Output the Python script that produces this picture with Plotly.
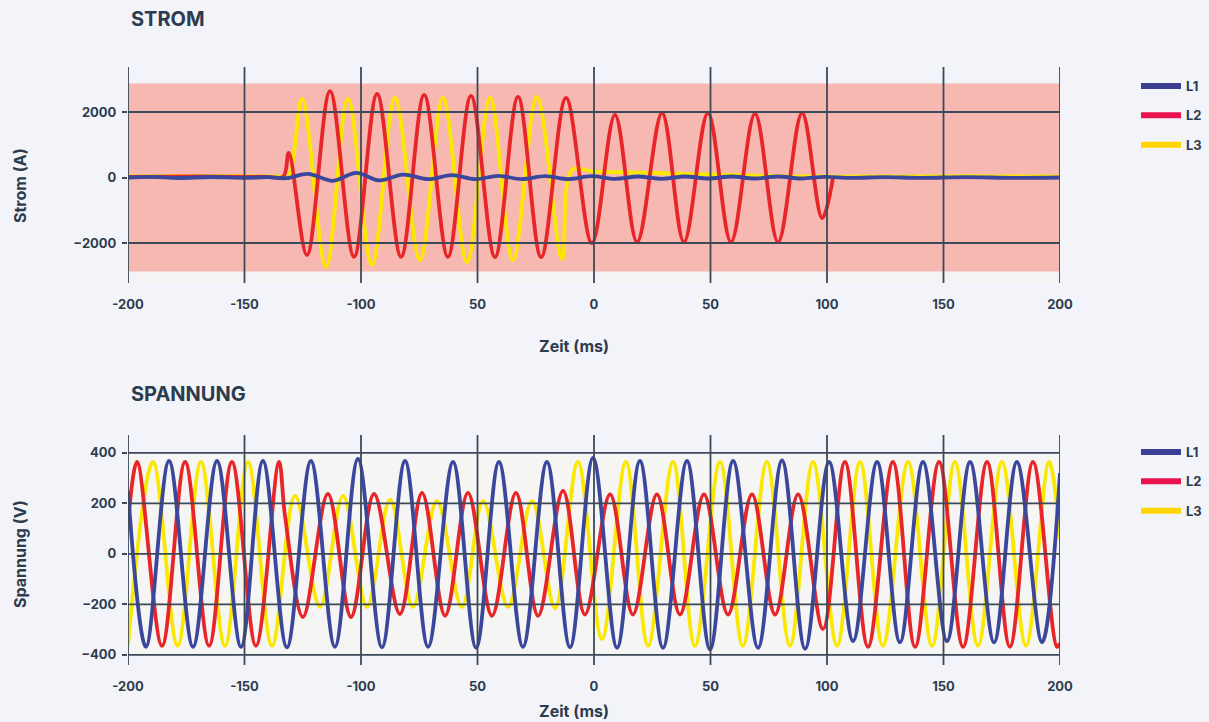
import plotly.graph_objects as go

# ---------------- data ----------------
X_TICKS = [-200, -150, -100, -50, 0, 50, 100, 150, 200]
X_TICK_LABELS = ["-200", "-150", "-100", "50", "0", "50", "100", "150", "200"]
Y1_TICKS = [-2000, 0, 2000]
Y2_TICKS = [-400, -200, 0, 200, 400]
SERIES_NAMES = ["L1", "L2", "L3"]

# Strom (A) – extrema / key points, time in ms
I1_T = [-200, -190, -178, -165, -150, -140, -132, -122.8, -112, -102, -92, -82, -71, -61, -51, -41, -31, -21, -11, -1,
        9, 19, 29, 39, 49, 59, 69, 79, 89, 99, 110, 125, 140, 160, 180, 200]
I1_V = [0, 20, -15, 15, -10, 10, -20, 110, -100, 140, -90, 90, -50, 75, -50, 50, -50, 40, -50, 40,
        -40, 30, -40, 30, -30, 30, -30, 30, -30, 20, -10, 10, -10, 10, -10, 0]

I2_T = [-200, -170, -140, -133.4, -131.0, -123.2, -113.3, -103.0, -93.1, -82.8, -72.9, -62.7, -52.8, -42.5, -32.6, -22.7,
        -12.0, -0.9, 9.0, 18.5, 29.2, 38.6, 48.9, 58.8, 69.1, 79.0, 89.3, 97.9, 102.6]
I2_V = [20, 30, 20, 20, 750, -2370, 2640, -2420, 2550, -2420, 2520, -2420, 2490, -2430, 2460, -2430,
        2430, -2000, 1910, -1970, 1970, -1970, 1970, -1970, 1950, -1970, 1970, -1240, 0]

I3_T = [-200, -160, -135, -131.3, -125.3, -115.0, -105.6, -95.3, -85.4, -74.7, -64.8, -54.5, -44.6, -34.8, -24.5, -13.7,
        -9.4, 0, 20, 40, 60, 80, 120, 160, 200]
I3_V = [30, 40, 30, 30, 2400, -2730, 2400, -2670, 2430, -2520, 2430, -2580, 2430, -2520, 2460, -2490,
        230, 180, 150, 110, 80, 40, 30, 40, 30]

# Spannung (V) – extrema / key points, time in ms
U1_T = [-200, -192.3, -182.4, -172.1, -161.8, -151.5, -142.1, -131.8, -121.5, -111.2, -101.3,
        -91.0, -81.1, -71.2, -60.5, -50.6, -40.8, -30.5, -20.2, -10.3, -0.4,
        9.9, 19.7, 29.6, 39.9, 49.8, 59.7, 70.4, 80.7, 90.6, 100.9,
        111.2, 121.5, 131.3, 141.2, 151.5, 161.4, 171.7, 181.5, 192.3, 200]
U1_V = [250, -368, 368, -368, 368, -368, 368, -370, 368, -368, 376,
        -370, 368, -368, 364, -372, 364, -368, 364, -370, 380,
        -372, 368, -372, 368, -378, 368, -372, 370, -376, 364,
        -345, 364, -350, 364, -345, 364, -350, 364, -350, 320]

U2_T = [-200, -196.1, -185.4, -175.5, -165.2, -155.4, -145.1, -135.2, -132.6,
        -124.9, -114.2, -104.3, -94.4, -83.3, -73.8, -63.9, -54.1, -43.8, -33.5,
        -24.0, -13.3, -3.9, 6.9, 16.7, 27.0, 36.9, 47.2, 57.5, 67.8,
        77.7, 87.6, 98.3, 107.7, 117.6, 128.3, 137.8, 148.1, 158.4, 168.7,
        178.5, 188.4, 198.7, 200]
U2_V = [120, 364, -364, 364, -364, 364, -364, 364, 150,
        -250, 238, -250, 238, -238, 242, -245, 242, -245, 242,
        -245, 250, -240, 236, -240, 236, -240, 236, -240, 236,
        -240, 236, -297, 364, -368, 364, -368, 364, -368, 364,
        -368, 364, -368, -355]

U3_T = [-200, -189.3, -178.7, -168.7, -158.4, -148.5, -138.2, -128.3, -117.6, -107.7,
        -97.4, -87.5, -77.7, -67.4, -56.7, -47.6, -36.9, -26.6, -16.7, -6.9,
        3.4, 13.7, 23.2, 33.9, 43.3, 54.1, 63.9, 74.2, 84.1, 94.0,
        104.3, 114.2, 124.0, 134.8, 145.1, 154.9, 164.8, 175.1, 185.4, 195.3, 200]
U3_V = [-362, 364, -364, 364, -364, 364, -364, 230, -210, 230,
        -210, 215, -210, 210, -210, 210, -210, 210, -215, 364,
        -337, 364, -364, 364, -364, 364, -364, 364, -364, 364,
        -364, 364, -364, 364, -364, 364, -364, 364, -364, 364, 60]

CURRENT_BAND = 2870  # pink band limits (A)

# ---------------- styling ----------------
W, H = 1209, 722
BG = "#f2f4f9"
INK = "#2d3b4e"
GRID = "#3d4959"
LINE_COLORS = {"L1": "#3a479c", "L2": "#e8262a", "L3": "#fbe800"}
LEGEND_COLORS = {"L1": "#3a3f94", "L2": "#e8124f", "L3": "#ffd600"}
FONT = "Inter"


def px_x(p):
    return p / W


def px_y(p):
    return 1 - p / H


fig = go.Figure()

# top chart traces
for name, t, v in [("L3", I3_T, I3_V), ("L2", I2_T, I2_V), ("L1", I1_T, I1_V)]:
    fig.add_trace(go.Scatter(x=t, y=v, mode="lines", line=dict(color=LINE_COLORS[name], width=3.8, shape="spline", smoothing=1),
                             showlegend=False, hoverinfo="skip", xaxis="x", yaxis="y"))
# bottom chart traces
for name, t, v in [("L3", U3_T, U3_V), ("L2", U2_T, U2_V), ("L1", U1_T, U1_V)]:
    fig.add_trace(go.Scatter(x=t, y=v, mode="lines", line=dict(color=LINE_COLORS[name], width=3.8, shape="spline", smoothing=1),
                             showlegend=False, hoverinfo="skip", xaxis="x2", yaxis="y2"))

# legend entries
for leg, xa, ya in [("legend", "x", "y"), ("legend2", "x2", "y2")]:
    for name in SERIES_NAMES:
        fig.add_trace(go.Scatter(x=[None], y=[None], mode="lines", name=name,
                                 line=dict(color=LEGEND_COLORS[name], width=6),
                                 legend=leg, legendgroup=leg + name, xaxis=xa, yaxis=ya))

shapes = []
# pink band (top) and light panel (bottom)
shapes.append(dict(type="rect", xref="x domain", yref="y", x0=0, x1=1, y0=-CURRENT_BAND, y1=CURRENT_BAND,
                   fillcolor="#f6b8b1", line=dict(width=0), layer="below"))
shapes.append(dict(type="rect", xref="x domain", yref="y domain", x0=0, x1=1, y0=0, y1=0.05,
                   fillcolor="#f4f4f5", line=dict(width=0), layer="below"))
shapes.append(dict(type="rect", xref="x2 domain", yref="y2", x0=0, x1=1, y0=min(Y2_TICKS), y1=max(Y2_TICKS),
                   fillcolor="#f5f5f4", line=dict(width=0), layer="below"))
# grid lines drawn above the curves
for xa, ya, yticks, skip0 in [("x", "y", Y1_TICKS, True), ("x2", "y2", Y2_TICKS, False)]:
    for v in X_TICKS:
        shapes.append(dict(type="line", xref=xa, yref=ya + " domain", x0=v, x1=v, y0=0, y1=1,
                           line=dict(color=GRID, width=1.8), layer="above"))
    for v in yticks:
        if skip0 and v == 0:
            continue
        shapes.append(dict(type="line", xref=xa + " domain", yref=ya, x0=0, x1=1, y0=v, y1=v,
                           line=dict(color=GRID, width=1.8), layer="above"))

tickfont = dict(family=FONT, size=13, color=INK, weight=700)
xcommon = dict(range=[-200, 200], tickvals=X_TICKS, ticktext=X_TICK_LABELS, showgrid=False, zeroline=False,
               showline=False, ticks="", tickfont=tickfont, ticklabelstandoff=12, fixedrange=True, automargin=False)
ycommon = dict(showgrid=False, zeroline=False, showline=False, ticks="outside", ticklen=5, tickwidth=2,
               tickcolor=GRID, tickfont=tickfont, ticklabelstandoff=3, fixedrange=True, automargin=False)

annotations = []
def ann(text, x, y, size, angle=0, xanchor="center"):
    annotations.append(dict(text=text, x=px_x(x), y=px_y(y), xref="paper", yref="paper", showarrow=False,
                            xanchor=xanchor, yanchor="middle", textangle=angle,
                            font=dict(family=FONT, size=size, color=INK, weight=700)))

ann("STROM", 129, 19, 20, xanchor="left")
ann("Strom (A)", 20, 186, 16, angle=-90)
ann("Zeit (ms)", 574, 346, 16)
ann("SPANNUNG", 129, 394, 20, xanchor="left")
ann("Spannung (V)", 20, 554, 16, angle=-90)
ann("Zeit (ms)", 574, 711, 16)

legend_common = dict(xanchor="left", yanchor="top", bgcolor="rgba(0,0,0,0)", font=dict(family=FONT, size=13, color=INK, weight=700),
                     tracegroupgap=9.5, itemwidth=40)

fig.update_layout(
    width=W, height=H, autosize=False,
    paper_bgcolor=BG, plot_bgcolor=BG,
    margin=dict(l=0, r=0, t=0, b=0, autoexpand=False),
    xaxis=dict(domain=[px_x(128), px_x(1060)], anchor="y", **xcommon),
    yaxis=dict(domain=[px_y(283), px_y(67)], anchor="x", range=[-3221, 3374], tickvals=Y1_TICKS, **ycommon),
    xaxis2=dict(domain=[px_x(128), px_x(1060)], anchor="y2", **xcommon),
    yaxis2=dict(domain=[px_y(665), px_y(435)], anchor="x2", range=[-440, 471], tickvals=Y2_TICKS, **ycommon),
    legend=dict(x=px_x(1136), y=px_y(71), **legend_common),
    legend2=dict(x=px_x(1136), y=px_y(437), **legend_common),
    shapes=shapes,
    annotations=annotations,
    hovermode=False,
)

fig.write_html(
    "out.html",
    config={"displayModeBar": False, "responsive": False},
    post_script="document.body.style.margin='0';document.body.style.background='" + BG + "';",
)
